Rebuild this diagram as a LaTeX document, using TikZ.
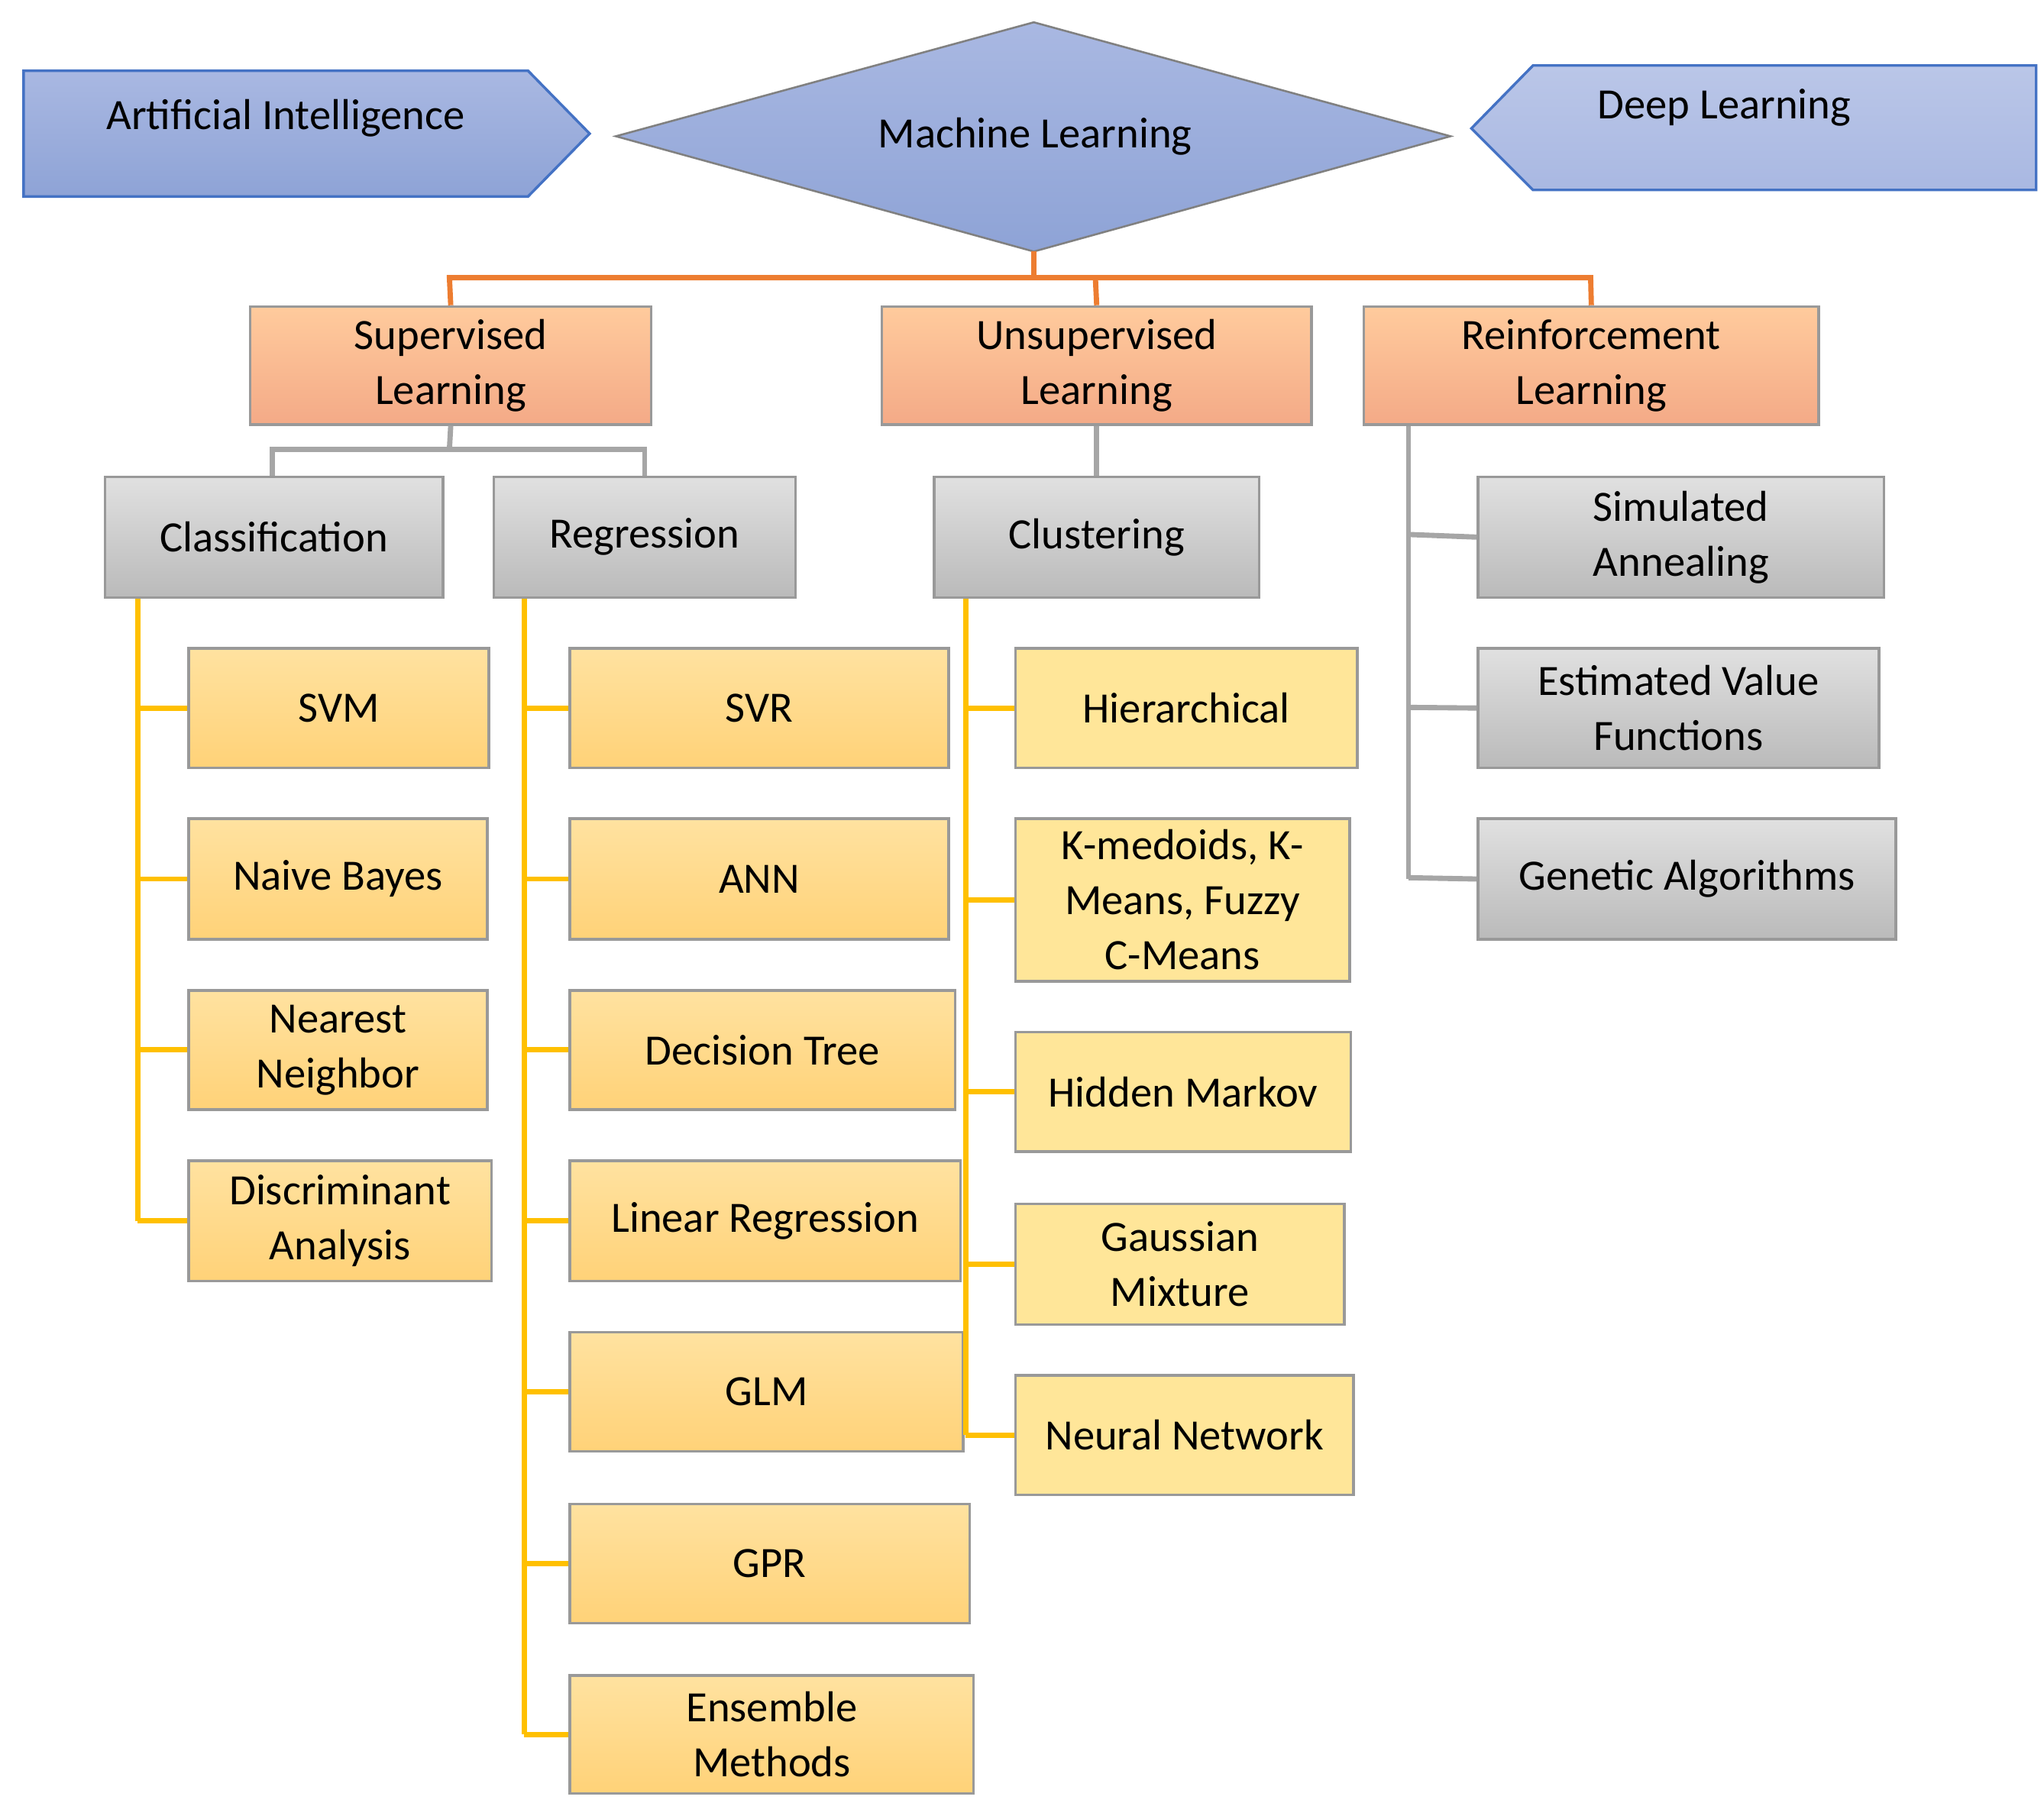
\documentclass[tikz,border=0pt]{standalone}
\usepackage{fontspec}
\setmainfont{Carlito}
\usetikzlibrary{shapes.geometric}
\definecolor{bluefill}{HTML}{A9B8E2}
\definecolor{bluefill2}{HTML}{8EA3D6}
\definecolor{blueline}{HTML}{4472C4}
\begin{document}
\begin{tikzpicture}[x=1pt,y=-1pt,
 fnt/.style={font=\fontsize{33}{42}\selectfont, align=center, inner sep=0pt},
 box/.style={fnt, draw=gray!80, line width=2pt, anchor=north west},
 obox/.style={box, top color=orange!40!white!90!pink, bottom color={rgb,255:red,244;green,170;blue,135}},
 gbox/.style={box, top color=black!12, bottom color=black!27},
 ybox/.style={box, top color={rgb,255:red,255;green,226;blue,160}, bottom color={rgb,255:red,255;green,210;blue,120}},
 lbox/.style={box, fill={rgb,255:red,255;green,230;blue,153}},
 ocon/.style={draw={rgb,255:red,237;green,125;blue,49}, line width=4pt},
 gcon/.style={draw=black!35, line width=4pt},
 ycon/.style={draw={rgb,255:red,255;green,192;blue,0}, line width=4pt},
]
\useasboundingbox (0,0) rectangle (1560,1376);
% top row
\path[top color=bluefill, bottom color=bluefill2, draw=blueline, line width=2pt]
 (18,54) -- (403,54) -- (450,102) -- (403,150) -- (18,150) -- cycle;
\node[fnt] (ai) at (218,90) {Artificial Intelligence};
\path[top color=bluefill, bottom color=bluefill2, draw=black!50, line width=1.5pt]
 (789,17) -- (1107,104) -- (789,192) -- (470,104) -- cycle;
\coordinate (mlb) at (789,192);
\node[fnt] (ml) at (790,104) {Machine Learning};
\path[top color=bluefill!80!white, bottom color=bluefill, draw=blueline, line width=2pt]
 (1170,50) -- (1554,50) -- (1554,145) -- (1170,145) -- (1123,98) -- cycle;
\node[fnt] (dl) at (1316,82) {Deep Learning};
% level 1
\node[obox, minimum width=306, minimum height=90] (sup) at (190,233) {Supervised\\Learning};
\node[obox, minimum width=328, minimum height=90] (uns) at (672,233) {Unsupervised\\Learning};
\node[obox, minimum width=347, minimum height=90] (rei) at (1040,233) {Reinforcement\\Learning};
\draw[ocon] (mlb) -- (789,212);
\draw[ocon] (sup.north) -- (343,212) -- (1214,212) -- (rei.north);
\draw[ocon] (uns.north) -- (836,212);
% level 2
\node[gbox, minimum width=258, minimum height=92] (cls) at (79,363) {Classification};
\node[gbox, minimum width=230, minimum height=92] (reg) at (376,363) {Regression};
\node[gbox, minimum width=248, minimum height=92] (clu) at (712,363) {Clustering};
\draw[gcon] (sup.south) -- (343,343);
\draw[gcon] (cls.north -| 208,0) -- (208,343) -- (492,343) -- (reg.north -| 492,0);
\draw[gcon] (uns.south) -- (clu.north);
% reinforcement
\node[gbox, minimum width=310, minimum height=92] (sa) at (1127,363) {Simulated\\Annealing};
\node[gbox, minimum width=306, minimum height=91] (ev) at (1127,494) {Estimated Value\\Functions};
\node[gbox, minimum width=319, minimum height=92] (ga) at (1127,624) {Genetic Algorithms};
\draw[gcon] (rei.south -| 1075,0) -- (ga.west -| 1075,0);
\draw[gcon] (sa.west) -- (1075,408);
\draw[gcon] (ev.west) -- (1075,540);
\draw[gcon] (ga.west) -- (1075,670);
% classification
\node[ybox, minimum width=229, minimum height=91] (svm) at (143,494) {SVM};
\node[ybox, minimum width=228, minimum height=92] (nb) at (143,624) {Naive Bayes};
\node[ybox, minimum width=228, minimum height=91] (nn) at (143,755) {Nearest\\Neighbor};
\node[ybox, minimum width=231, minimum height=92] (da) at (143,885) {Discriminant\\Analysis};
\draw[ycon] (cls.south -| 105,0) -- (da.west -| 105,0);
\foreach \n in {svm,nb,nn,da} \draw[ycon] (\n.west) -- (\n.west -| 105,0);
% regression
\node[ybox, minimum width=289, minimum height=91] (svr) at (434,494) {SVR};
\node[ybox, minimum width=289, minimum height=92] (ann) at (434,624) {ANN};
\node[ybox, minimum width=294, minimum height=91] (dt) at (434,755) {Decision Tree};
\node[ybox, minimum width=298, minimum height=92] (lr) at (434,885) {Linear Regression};
\node[ybox, minimum width=300, minimum height=91] (glm) at (434,1016) {GLM};
\node[ybox, minimum width=305, minimum height=91] (gpr) at (434,1147) {GPR};
\node[ybox, minimum width=308, minimum height=90] (em) at (434,1278) {Ensemble\\Methods};
\draw[ycon] (reg.south -| 400,0) -- (em.west -| 400,0);
\foreach \n in {svr,ann,dt,lr,glm,gpr,em} \draw[ycon] (\n.west) -- (\n.west -| 400,0);
% clustering
\node[lbox, minimum width=261, minimum height=91] (hi) at (774,494) {Hierarchical};
\node[lbox, minimum width=255, minimum height=124] (km) at (774,624) {K-medoids, K-\\Means, Fuzzy\\C-Means};
\node[lbox, minimum width=256, minimum height=91] (hm) at (774,787) {Hidden Markov};
\node[lbox, minimum width=251, minimum height=92] (gm) at (774,918) {Gaussian\\Mixture};
\node[lbox, minimum width=258, minimum height=91] (nnet) at (774,1049) {Neural Network};
\draw[ycon] (clu.south -| 737,0) -- (nnet.west -| 737,0);
\foreach \n in {hi,km,hm,gm,nnet} \draw[ycon] (\n.west) -- (\n.west -| 737,0);
\end{tikzpicture}
\end{document}
